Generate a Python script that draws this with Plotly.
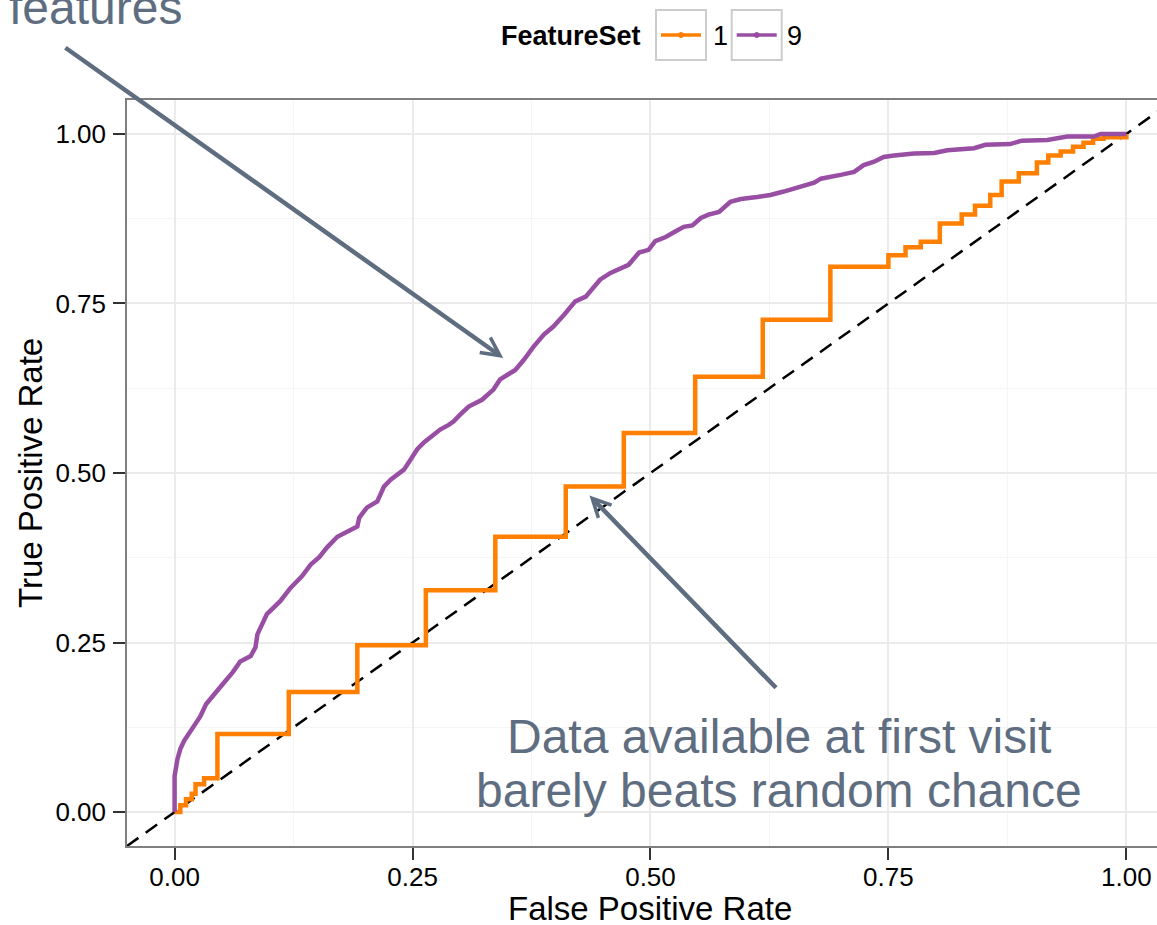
import plotly.graph_objects as go

# ---------------- data ----------------
fs1_fpr = [0, 0.006, 0.012, 0.018, 0.022, 0.031, 0.045, 0.120, 0.192, 0.264, 0.337,
           0.411, 0.472, 0.547, 0.618, 0.689, 0.750, 0.768, 0.784, 0.804, 0.827,
           0.841, 0.857, 0.869, 0.887, 0.906, 0.918, 0.931, 0.944, 0.955, 0.965,
           0.976, 1.0]
fs1_tpr = [0, 0.010, 0.019, 0.027, 0.041, 0.050, 0.115, 0.177, 0.246, 0.327, 0.406,
           0.480, 0.559, 0.642, 0.726, 0.804, 0.821, 0.833, 0.841, 0.868, 0.881,
           0.894, 0.910, 0.930, 0.942, 0.958, 0.968, 0.974, 0.981, 0.987, 0.993,
           0.995, 1.0]

fs9_fpr = [0, 0, 0.003, 0.006, 0.010, 0.015, 0.020, 0.027, 0.033, 0.043, 0.052,
           0.061, 0.069, 0.080, 0.085, 0.087, 0.097, 0.111, 0.122, 0.134, 0.143,
           0.152, 0.160, 0.171, 0.185, 0.192, 0.194, 0.202, 0.213, 0.220, 0.227,
           0.241, 0.248, 0.255, 0.262, 0.272, 0.279, 0.288, 0.293, 0.300, 0.309,
           0.323, 0.335, 0.342, 0.358, 0.367, 0.377, 0.388, 0.398, 0.409, 0.421,
           0.432, 0.440, 0.447, 0.458, 0.468, 0.477, 0.488, 0.498, 0.505, 0.516,
           0.526, 0.535, 0.544, 0.553, 0.561, 0.572, 0.584, 0.595, 0.612, 0.626,
           0.640, 0.654, 0.672, 0.679, 0.693, 0.701, 0.714, 0.724, 0.735, 0.745,
           0.756, 0.777, 0.798, 0.812, 0.840, 0.852, 0.878, 0.890, 0.917, 0.938,
           0.966, 0.973, 1.0]
fs9_tpr = [0, 0.053, 0.078, 0.093, 0.105, 0.115, 0.125, 0.141, 0.159, 0.177, 0.191,
           0.206, 0.222, 0.230, 0.243, 0.262, 0.292, 0.311, 0.331, 0.348, 0.365,
           0.376, 0.390, 0.406, 0.417, 0.421, 0.434, 0.449, 0.458, 0.480, 0.490,
           0.505, 0.520, 0.535, 0.545, 0.557, 0.564, 0.571, 0.576, 0.586, 0.598,
           0.608, 0.623, 0.638, 0.652, 0.667, 0.686, 0.704, 0.716, 0.733, 0.753,
           0.760, 0.773, 0.785, 0.795, 0.801, 0.807, 0.825, 0.829, 0.842, 0.848,
           0.856, 0.863, 0.865, 0.876, 0.881, 0.885, 0.900, 0.904, 0.907, 0.910,
           0.915, 0.920, 0.928, 0.934, 0.937, 0.940, 0.944, 0.954, 0.959, 0.966,
           0.968, 0.971, 0.972, 0.976, 0.979, 0.984, 0.985, 0.990, 0.991, 0.996,
           0.996, 1.000, 1.0]

diag = [-0.05, 1.05]

series_names = ["1", "9"]
series_colors = ["#FF7F00", "#984EA3"]
legend_title = "FeatureSet"

x_title = "False Positive Rate"
y_title = "True Positive Rate"
note_top = "features"
note_bottom = ["Data available at first visit", "barely beats random chance"]

# ---------------- layout helpers (pixel -> paper) ----------------
W, H = 1157, 925
ML, MR, MT, MB = 127, 0, 100, 79
PW, PH = W - ML - MR, H - MT - MB


def px_x(p):
    return (p - ML) / PW


def px_y(p):
    return (H - MB - p) / PH


FONT = "Liberation Sans, Arial, Helvetica, sans-serif"
NOTE_COLOR = "#5e6d7f"

fig = go.Figure()

fig.add_trace(go.Scatter(x=diag, y=diag, mode="lines",
                         line=dict(color="black", width=2.5, dash="14px,9px"),
                         showlegend=False, hoverinfo="skip"))
fig.add_trace(go.Scatter(x=fs1_fpr, y=fs1_tpr, mode="lines", name=series_names[0],
                         line=dict(color=series_colors[0], width=4.5, shape="hv"),
                         showlegend=False))
fig.add_trace(go.Scatter(x=fs9_fpr, y=fs9_tpr, mode="lines", name=series_names[1],
                         line=dict(color=series_colors[1], width=4.5),
                         showlegend=False))

axis_common = dict(
    showgrid=True, gridcolor="#ebebeb", gridwidth=1.6,
    zeroline=False, showline=True, linecolor="#7f7f7f", linewidth=1.6,
    ticks="outside", ticklen=12, tickwidth=2.4, tickcolor="#333333",
    tick0=0, dtick=0.25, tickformat=".2f",
    tickfont=dict(family=FONT, size=26, color="black"),
    minor=dict(dtick=0.125, tick0=0, showgrid=True, gridcolor="#f5f5f5", gridwidth=1, ticks=""),
)

fig.update_xaxes(range=[-0.05, 1.0322], mirror=True, ticklabelstandoff=-5, **axis_common)
fig.update_yaxes(range=[-0.05, 1.05], mirror=False, ticklabelstandoff=2, **axis_common)

annotations = []
# axis titles
annotations.append(dict(text=x_title, x=0.5, xref="x", y=px_y(908), yref="paper",
                        showarrow=False, xanchor="center", yanchor="middle",
                        font=dict(family=FONT, size=33, color="black")))
annotations.append(dict(text=y_title, x=px_x(30), xref="paper", y=0.5, yref="paper",
                        showarrow=False, textangle=-90, xanchor="center", yanchor="middle",
                        font=dict(family=FONT, size=33, color="black")))
# text notes
annotations.append(dict(text=note_top, x=px_x(7), xref="paper", y=px_y(8), yref="paper",
                        showarrow=False, xanchor="left", yanchor="middle",
                        font=dict(family=FONT, size=48, color=NOTE_COLOR)))
annotations.append(dict(text=note_bottom[0], x=0.6355, xref="x", y=0.112, yref="y",
                        showarrow=False, xanchor="center", yanchor="middle",
                        font=dict(family=FONT, size=48, color=NOTE_COLOR)))
annotations.append(dict(text=note_bottom[1], x=0.6355, xref="x", y=0.032, yref="y",
                        showarrow=False, xanchor="center", yanchor="middle",
                        font=dict(family=FONT, size=48, color=NOTE_COLOR)))
# arrows
annotations.append(dict(text="", x=0.3453, y=0.6697, xref="x", yref="y",
                        ax=-0.1163, ay=1.1286, axref="x", ayref="y",
                        showarrow=True, arrowhead=5, arrowsize=0.8, arrowwidth=4.5,
                        arrowcolor=NOTE_COLOR, standoff=0))
annotations.append(dict(text="", x=0.4359, y=0.4669, xref="x", yref="y",
                        ax=0.6334, ay=0.1811, axref="x", ayref="y",
                        showarrow=True, arrowhead=5, arrowsize=0.8, arrowwidth=4.5,
                        arrowcolor=NOTE_COLOR, standoff=0))
# legend texts
annotations.append(dict(text="<b>%s</b>" % legend_title, x=px_x(643), xref="paper",
                        y=px_y(36), yref="paper", showarrow=False,
                        xanchor="right", yanchor="middle",
                        font=dict(family=FONT, size=27, color="black")))

shapes = []
box_left = [656, 731.7]
label_cx = [720, 794]
for i, name in enumerate(series_names):
    bl = box_left[i]
    shapes.append(dict(type="rect", xref="paper", yref="paper",
                       x0=px_x(bl), x1=px_x(bl + 50), y0=px_y(60), y1=px_y(10),
                       line=dict(color="#cccccc", width=2), fillcolor="white"))
    shapes.append(dict(type="line", xref="paper", yref="paper",
                       x0=px_x(bl + 5), x1=px_x(bl + 45), y0=px_y(35), y1=px_y(35),
                       line=dict(color=series_colors[i], width=3.5)))
    cx = bl + 25
    shapes.append(dict(type="circle", xref="paper", yref="paper",
                       x0=px_x(cx - 2.5), x1=px_x(cx + 2.5), y0=px_y(37.5), y1=px_y(32.5),
                       line=dict(color=series_colors[i], width=1), fillcolor=series_colors[i]))
    annotations.append(dict(text=name, x=px_x(label_cx[i]), xref="paper",
                            y=px_y(36), yref="paper", showarrow=False,
                            xanchor="center", yanchor="middle",
                            font=dict(family=FONT, size=27, color="black")))

fig.update_layout(
    width=W, height=H,
    margin=dict(l=ML, r=MR, t=MT, b=MB, pad=0),
    paper_bgcolor="white", plot_bgcolor="white",
    showlegend=False,
    annotations=annotations, shapes=shapes,
    font=dict(family=FONT),
)

fig.write_html("out.html")
